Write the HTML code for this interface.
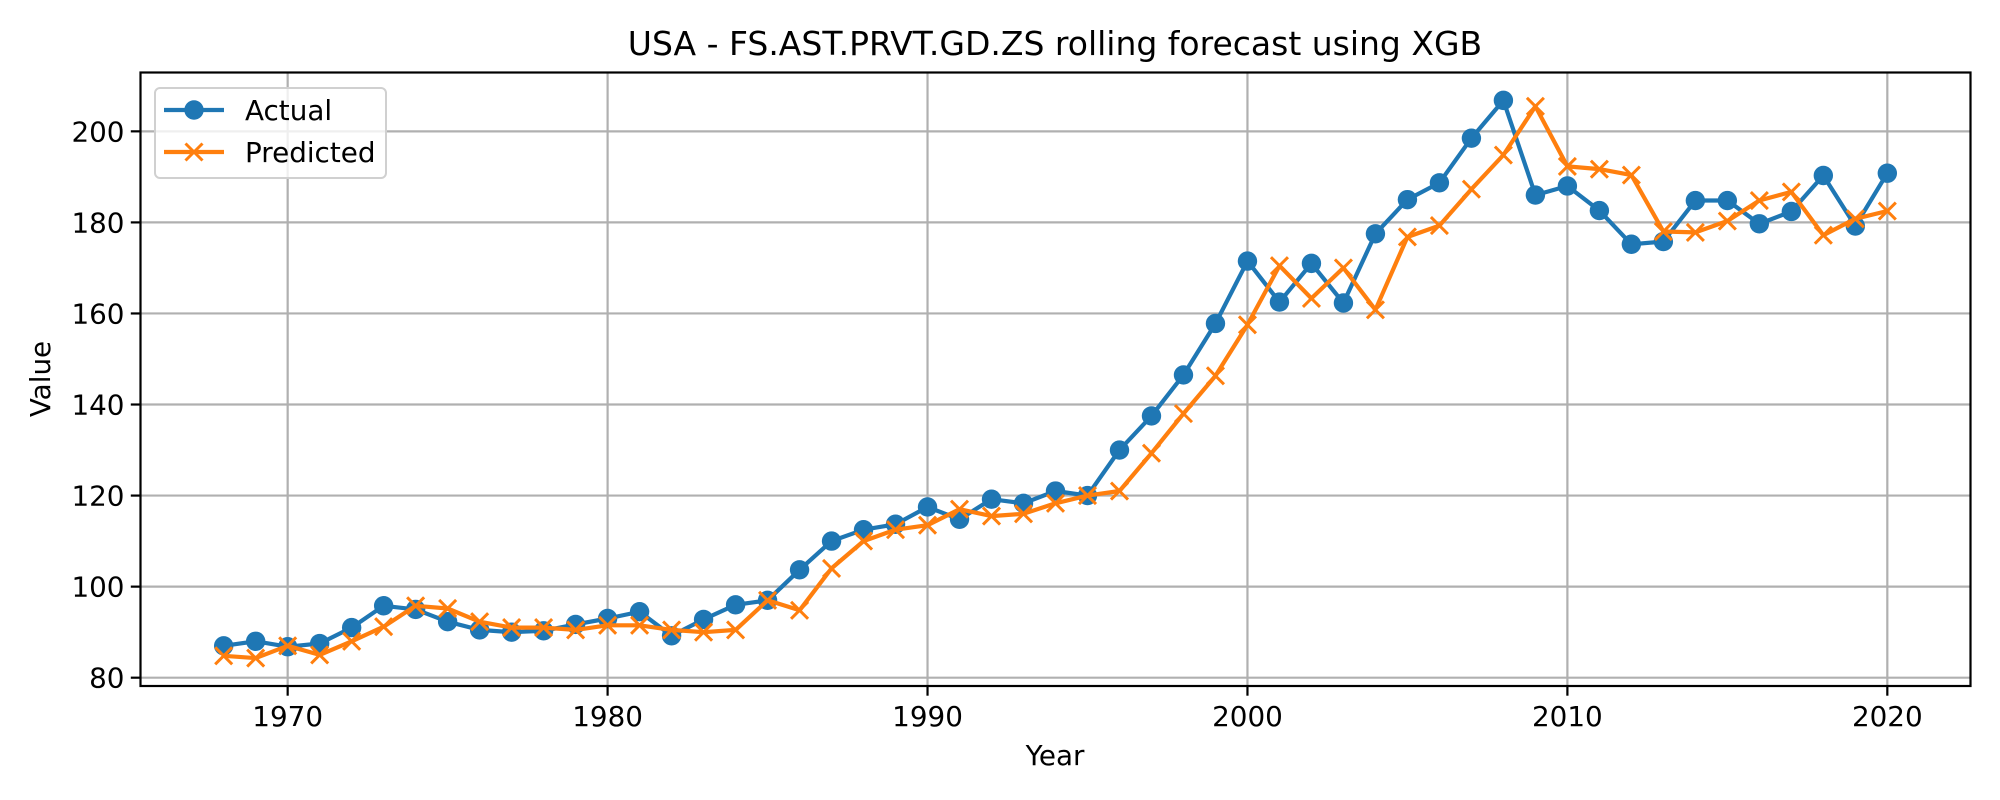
<!DOCTYPE html>
<html><head><meta charset="utf-8"><style>
html,body{margin:0;padding:0;background:#fff;}
svg{display:block;font-family:"DejaVu Sans","Liberation Sans",sans-serif;}
</style></head><body>
<svg id="chart" width="2000" height="800" viewBox="0 0 2000 800" xmlns="http://www.w3.org/2000/svg">
<rect width="2000" height="800" fill="#fff"/>
<g id="grid"></g>
<g id="series"></g>
<g id="axes"></g>
<text x="1055" y="55" font-size="33" text-anchor="middle" fill="#000">USA - FS.AST.PRVT.GD.ZS rolling forecast using XGB</text>
<text x="1055" y="765" font-size="27.8" text-anchor="middle" fill="#000">Year</text>
<text x="0" y="0" font-size="27.8" text-anchor="middle" fill="#000" transform="translate(50,379) rotate(-90)">Value</text>
<g>
<rect x="155" y="88" width="231" height="90" rx="5" fill="#fff" fill-opacity="0.8" stroke="#d0d0d0" stroke-width="2"/>
<g>
<line x1="164" y1="110" x2="224" y2="110" stroke="#1f77b4" stroke-width="4.2"/>
<circle cx="194" cy="110" r="9.7" fill="#1f77b4"/>
<text x="245" y="120" font-size="27.8" fill="#000">Actual</text>
</g>
<g>
<line x1="164" y1="152" x2="224" y2="152" stroke="#ff7f0e" stroke-width="4.2"/>
<path d="M185.5 143.5 L202.5 160.5 M185.5 160.5 L202.5 143.5" stroke="#ff7f0e" stroke-width="3"/>
<text x="245" y="162" font-size="27.8" fill="#000">Predicted</text>
</g>
</g>
</svg>
<script>
const years = [1968,1969,1970,1971,1972,1973,1974,1975,1976,1977,1978,1979,1980,1981,1982,1983,1984,1985,1986,1987,1988,1989,1990,1991,1992,1993,1994,1995,1996,1997,1998,1999,2000,2001,2002,2003,2004,2005,2006,2007,2008,2009,2010,2011,2012,2013,2014,2015,2016,2017,2018,2019,2020];
const actual = [87,88,86.8,87.5,91,95.8,95,92.3,90.5,90,90.3,91.7,93,94.5,89.2,92.8,96,97,103.7,110,112.5,113.7,117.5,114.8,119.2,118.3,121,120,130,137.5,146.5,157.8,171.5,162.5,171,162.3,177.5,185,188.7,198.5,206.8,186,188,182.6,175.2,175.8,184.8,184.8,179.7,182.4,190.3,179.2,190.8];
const predicted = [84.8,84.3,87,85,88,91.2,95.8,95.2,92.3,91,91,90.5,91.5,91.5,90.5,90,90.5,97,94.8,104,110,112.5,113.5,117,115.5,116,118.3,120,121,129.3,138,146.3,157.5,170.5,163.3,170,160.8,176.8,179.3,187.3,194.8,205.5,192.3,191.7,190.4,178,177.8,180.3,184.8,186.7,177.2,180.8,182.5];
const xTicks = [1970,1980,1990,2000,2010,2020];
const yTicks = [80,100,120,140,160,180,200];

const L=140.5,R=1970.5,T=72.5,B=686;
const NS="http://www.w3.org/2000/svg";
function extent(){let a=Math.min(...years),b=Math.max(...years);let m=(b-a)*0.05;return[a-m,b+m];}
function yext(){let all=actual.concat(predicted);let a=Math.min(...all),b=Math.max(...all);let m=(b-a)*0.05;return[a-m,b+m];}
const [x0,x1]=extent(),[y0,y1]=yext();
const xs=v=>L+(v-x0)/(x1-x0)*(R-L);
const ys=v=>B-(v-y0)/(y1-y0)*(B-T);
function mk(tag,attrs,parent){const e=document.createElementNS(NS,tag);for(const k in attrs)e.setAttribute(k,attrs[k]);parent.appendChild(e);return e;}
const grid=document.getElementById('grid'),axes=document.getElementById('axes'),series=document.getElementById('series');
xTicks.forEach(t=>{const x=xs(t);
 const g=mk('line',{x1:x,x2:x,y1:T,y2:B,stroke:'#b0b0b0','stroke-width':2.2},grid);
 
 
 mk('line',{x1:x,x2:x,y1:B,y2:B+9.7,stroke:'#000','stroke-width':2.2},axes);
 const tx=mk('text',{x:x,y:B+40,'font-size':27.8,'text-anchor':'middle',fill:'#000'},axes);tx.textContent=t;
 
 
});
yTicks.forEach(t=>{const y=ys(t);
 const g=mk('line',{x1:L,x2:R,y1:y,y2:y,stroke:'#b0b0b0','stroke-width':2.2},grid);
 
 
 mk('line',{x1:L-9.7,x2:L,y1:y,y2:y,stroke:'#000','stroke-width':2.2},axes);
 const tx=mk('text',{x:L-16,y:y+10,'font-size':27.8,'text-anchor':'end',fill:'#000'},axes);tx.textContent=t;
 
 
});
const fr=mk('rect',{x:L,y:T,width:R-L,height:B-T,fill:'none',stroke:'#000','stroke-width':2.2},axes);


function line(vals){return vals.map((v,i)=>(i?'L':'M')+xs(years[i]).toFixed(1)+' '+ys(v).toFixed(1)).join(' ');}
const pa=mk('path',{d:line(actual),fill:'none',stroke:'#1f77b4','stroke-width':4.2,'stroke-linejoin':'round'},series);


actual.forEach((v,i)=>{const c=mk('circle',{cx:xs(years[i]),cy:ys(v),r:9.7,fill:'#1f77b4'},series);
 
 
});
const pp=mk('path',{d:line(predicted),fill:'none',stroke:'#ff7f0e','stroke-width':4.2,'stroke-linejoin':'round'},series);


predicted.forEach((v,i)=>{const x=xs(years[i]),y=ys(v),s=8.5;
 const m=mk('path',{d:`M${x-s} ${y-s} L${x+s} ${y+s} M${x-s} ${y+s} L${x+s} ${y-s}`,stroke:'#ff7f0e','stroke-width':3},series);
 
 
});
</script>
</body></html>
